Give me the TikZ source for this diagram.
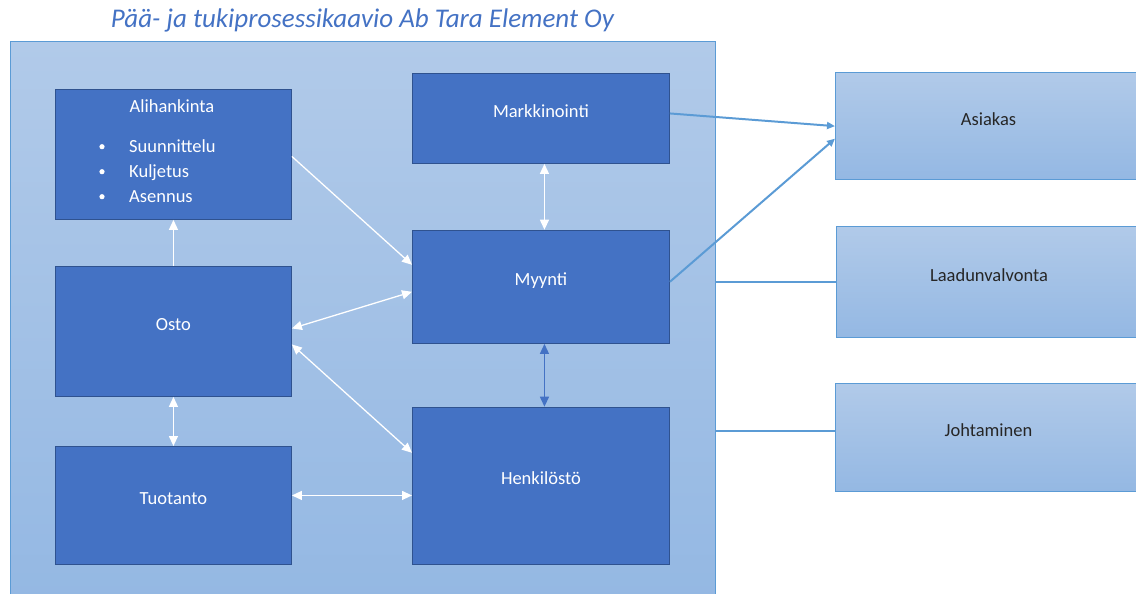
\documentclass[tikz,border=0pt]{standalone}
\usepackage{fontspec}
\setmainfont{Carlito}
\usetikzlibrary{arrows.meta,calc}
\definecolor{boxblue}{HTML}{4472C4}
\definecolor{boxedge}{HTML}{2F528F}
\definecolor{lineblue}{HTML}{5B9BD5}
\definecolor{gradtop}{HTML}{B1CAE9}
\definecolor{gradbot}{HTML}{94B8E3}
\definecolor{txtdark}{HTML}{262626}
\tikzset{
  boxfont/.style={font=\fontsize{18.5}{25}\selectfont},
  procbox/.style={draw=boxedge, fill=boxblue, line width=0.9pt, anchor=north west,
    text=white, text height=12pt, text depth=14pt, boxfont},
  extbox/.style={draw=lineblue, top color=gradtop, bottom color=gradbot, line width=1pt,
    anchor=north west, text=txtdark, text height=12pt, text depth=14pt, boxfont},
  boxlbl/.style={text=white, inner sep=0pt, boxfont},
  whitearr/.style={white, line width=1.3pt, -{Triangle[length=10pt,width=9pt]}},
  whitearrs/.style={white, line width=1.3pt,
    {Triangle[length=10pt,width=9pt]}-{Triangle[length=10pt,width=9pt]}},
  darkarrs/.style={boxblue, line width=1.3pt,
    {Triangle[length=10pt,width=9pt]}-{Triangle[length=10pt,width=9pt]}},
  bluearr/.style={lineblue, line width=2pt, -{Triangle[length=8pt,width=7pt]}},
  blueln/.style={lineblue, line width=2pt},
}

\begin{document}
\begin{tikzpicture}[x=1pt, y=-1pt]
    \useasboundingbox (0,0) rectangle (1136,594);
    % Title
    \node[font=\fontsize{27}{30}\selectfont\itshape, text=boxblue, anchor=base] (title)
      at (362.5,28) {Pää- ja tukiprosessikaavio Ab Tara Element Oy};
    % Container of the main processes
    \node[draw=lineblue, line width=1pt, top color=gradtop, bottom color=gradbot,
      anchor=north west, minimum width=705pt, minimum height=560pt] (frame) at (10,41) {};
    % Process boxes
    \node[procbox, minimum width=236pt, minimum height=130pt] (alih) at (55,89) {};
    \node[boxlbl, anchor=base] (alihT) at (172,112.7) {Alihankinta};
    \foreach \itm [count=\i] in {Suunnittelu,Kuljetus,Asennus} {
      \node[boxlbl, anchor=base west] (alih\i) at (129,{127.7+25*\i}) {\itm};
      \fill[white] ($(alih\i.base west)+(-27,-6)$) circle (2.6pt);
    }
    \node[procbox, minimum width=236pt, minimum height=130pt] (osto) at (55,266) {Osto};
    \node[procbox, minimum width=236pt, minimum height=118pt] (tuot) at (55,446) {Tuotanto};
    \node[procbox, minimum width=257pt, minimum height=90pt] (markk) at (412,73) {Markkinointi};
    \node[procbox, minimum width=257pt, minimum height=113.3pt] (myynti) at (412,229.7) {Myynti};
    \node[procbox, minimum width=257pt, minimum height=157.3pt] (henk) at (412,406.7) {Henkilöstö};
    % Boxes on the right
    \node[extbox, minimum width=306pt, minimum height=107.3pt] (asiakas) at (835,72) {Asiakas};
    \node[extbox, minimum width=305pt, minimum height=111.6pt] (laatu) at (836,225.7) {Laadunvalvonta};
    \node[extbox, minimum width=306pt, minimum height=108pt] (johto) at (835,383.3) {Johtaminen};
    % Arrows inside the container
    \draw[whitearr] (osto.north) -- (alih.south);
    \draw[whitearr] ([yshift=-2pt]alih.east) -- ([yshift=22pt]myynti.west);
    \draw[whitearrs] ([yshift=3pt]osto.east) -- ([yshift=-5pt]myynti.west);
    \draw[whitearrs] ([yshift=-13pt]osto.east) -- ([yshift=33pt]henk.west);
    \draw[whitearrs] ([xshift=3.5pt]markk.south) -- ([xshift=3.5pt]myynti.north);
    \draw[whitearrs] (osto.south) -- (tuot.north);
    \draw[whitearrs] ([yshift=10pt]tuot.east) -- ([yshift=10pt]tuot.east -| henk.west);
    \draw[darkarrs] ([xshift=3.5pt]myynti.south) -- ([xshift=3.5pt]henk.north);
    % Links to the right
    \draw[bluearr] ([yshift=5pt]markk.east) -- (asiakas.west);
    \draw[bluearr] ([yshift=5pt]myynti.east) -- ([yshift=-12.5pt]asiakas.west);
    \draw[blueln] (laatu.west -| frame.east) -- (laatu.west);
    \draw[blueln] ([yshift=7pt]johto.west -| frame.east) -- ([yshift=7pt]johto.west);
  \end{tikzpicture}
\end{document}
